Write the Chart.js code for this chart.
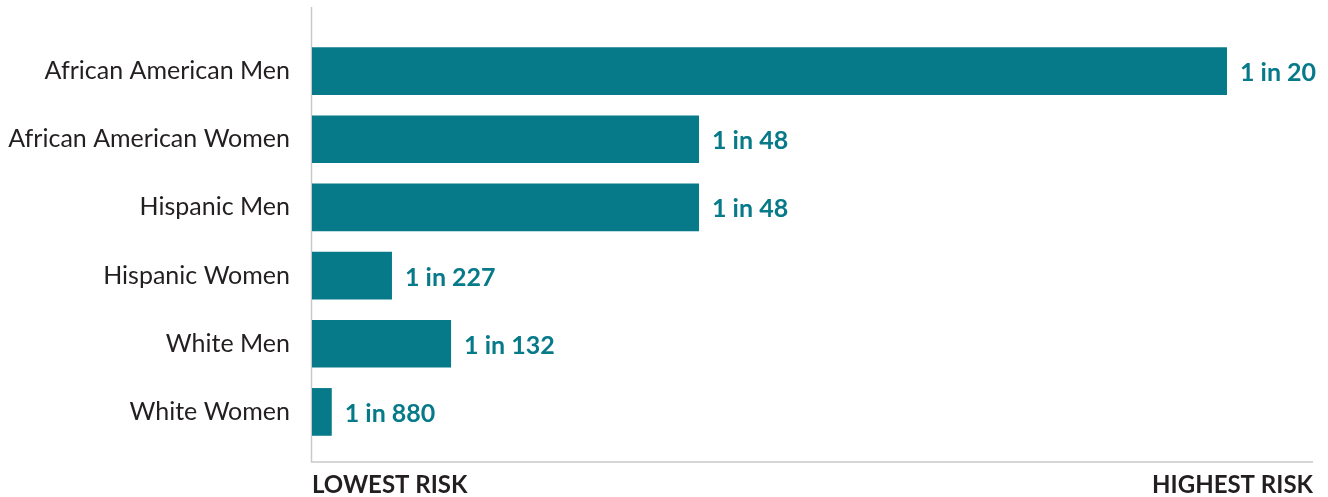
<!DOCTYPE html>
<html>
<head>
<meta charset="utf-8">
<script src="https://cdn.jsdelivr.net/npm/chart.js@4"></script>
<style>
  html, body { margin: 0; padding: 0; background: #ffffff; }
  #wrap { width: 1328px; height: 497px; position: relative; }
</style>
</head>
<body>
<div id="wrap"><canvas id="c"></canvas></div>
<script>
// ---- data ----
const categories = ["African American Men", "African American Women", "Hispanic Men", "Hispanic Women", "White Men", "White Women"];
const riskValues = [5.0, 2.115, 2.115, 0.437, 0.76, 0.108];
const riskLabels = ["1 in 20", "1 in 48", "1 in 48", "1 in 227", "1 in 132", "1 in 880"];
const axisEndLabels = ["LOWEST RISK", "HIGHEST RISK"];
const axisMax = 5.47;

const BAR = "#077A8A";
const AXIS = "#C9C9C9";
const TEXT = "#231F20";
const FONT = "Lato";

const valueLabels = {
  id: 'valueLabels',
  afterDatasetsDraw(chart) {
    const ctx = chart.ctx;
    const meta = chart.getDatasetMeta(0);
    ctx.save();
    ctx.fillStyle = BAR;
    ctx.font = "bold 25px " + FONT;
    ctx.textAlign = "left";
    ctx.textBaseline = "middle";
    meta.data.forEach((bar, i) => {
      ctx.fillText(riskLabels[i], bar.x + 13, bar.y + 2);
    });
    ctx.restore();
  }
};

const axisLines = {
  id: 'axisLines',
  beforeDatasetsDraw(chart) {
    const ctx = chart.ctx;
    const a = chart.chartArea;
    ctx.save();
    ctx.strokeStyle = AXIS;
    ctx.lineWidth = 1.5;
    ctx.beginPath();
    ctx.moveTo(a.left - 0.5, 7);
    ctx.lineTo(a.left - 0.5, a.bottom + 16);
    ctx.lineTo(a.right, a.bottom + 16);
    ctx.stroke();
    ctx.restore();
  }
};

new Chart(document.getElementById('c'), {
  type: 'bar',
  data: {
    labels: categories,
    datasets: [{
      data: riskValues,
      backgroundColor: BAR,
      borderWidth: 0,
      barPercentage: 0.70,
      categoryPercentage: 1.0
    }]
  },
  options: {
    indexAxis: 'y',
    responsive: true,
    maintainAspectRatio: false,
    animation: false,
    layout: { padding: { top: 32, right: 15, left: 0, bottom: 0 } },
    plugins: { legend: { display: false }, tooltip: { enabled: false } },
    scales: {
      y: {
        grid: { display: false, drawTicks: false },
        border: { display: false },
        ticks: { color: TEXT, font: { family: FONT, size: 25 }, padding: 22 },
        afterFit(scale) { scale.width = 312; }
      },
      x: {
        min: 0,
        max: axisMax,
        grid: { display: false, drawTicks: false },
        border: { display: false },
        afterBuildTicks(scale) { scale.ticks = [{ value: 0 }, { value: axisMax }]; },
        ticks: {
          align: 'inner',
          maxRotation: 0,
          autoSkip: false,
          color: TEXT,
          font: { family: FONT, size: 24, weight: 'bold' },
          padding: 25,
          callback(value, index) { return axisEndLabels[index]; }
        },
        afterFit(scale) {
          scale.height = 51;
          scale.paddingLeft = 0;
          scale.paddingRight = 0;
        }
      }
    }
  },
  plugins: [axisLines, valueLabels]
});
</script>
</body>
</html>
